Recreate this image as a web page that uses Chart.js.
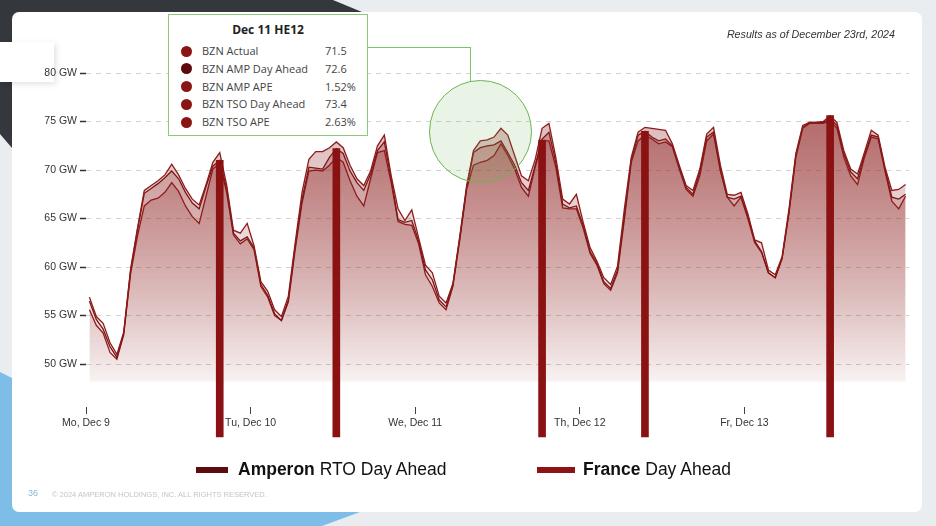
<!DOCTYPE html>
<html>
<head>
<meta charset="utf-8">
<script src="https://cdn.jsdelivr.net/npm/chart.js@4.4.1/dist/chart.umd.min.js"></script>
<style>
  html, body { margin: 0; padding: 0; }
  body { width: 936px; height: 526px; position: relative; overflow: hidden; background: #e9edf0; font-family: "Liberation Sans", Arial, sans-serif; }
  .dark { position: absolute; left: 0; top: 0; width: 400px; height: 160px; background: #34373c;
          clip-path: polygon(0 0, 333px 0, 362px 12px, 12px 148px, 0 134px); }
  .blue { position: absolute; left: 0; top: 360px; width: 400px; height: 166px; background: #7fbde9;
          clip-path: polygon(0 12px, 12px 18px, 360px 152px, 322px 166px, 0 166px); }
  .card { position: absolute; left: 12px; top: 12px; width: 910px; height: 500px; background: #fff; border-radius: 7px; }
  .tab { position: absolute; left: 0; top: 42px; width: 54px; height: 40px; background: #fff; box-shadow: 2px 2px 6px rgba(0,0,0,0.12); }
  #wrap { position: absolute; left: 0; top: 0; width: 936px; height: 526px; }
  .asof { position: absolute; right: 41px; top: 28px; font-size: 10.7px; font-style: italic; color: #333; }
  .circle { position: absolute; left: 429px; top: 80px; width: 101px; height: 101px; border-radius: 50%;
            border: 1.5px solid #6cb44e; background: rgba(108,182,88,0.15); }
  .hline { position: absolute; left: 367px; top: 47px; width: 103px; height: 1px; background: #7cc26a; }
  .vline { position: absolute; left: 470px; top: 47px; width: 1px; height: 35px; background: #7cc26a; }
  .tip { position: absolute; left: 168px; top: 14px; width: 198px; height: 120px; background: #fff; border: 1px solid #8cc97a;
         font-family: "Open Sans", sans-serif; color: #444; }
  .tip-title { position: absolute; left: 0; right: 0; top: 6px; text-align: center; font-weight: bold; font-size: 12px; color: #222; }
  .row { position: absolute; left: 0; width: 198px; height: 16px; font-size: 11px; line-height: 16px; }
  .dot { position: absolute; left: 12px; top: 2.5px; width: 11px; height: 11px; border-radius: 50%; }
  .lab { position: absolute; left: 33px; }
  .val { position: absolute; left: 156px; }
  .legend { position: absolute; top: 459px; font-size: 17.5px; color: #111; white-space: nowrap; }
  .sw { position: absolute; top: 467px; height: 6px; }
  .page { position: absolute; left: 28px; top: 488px; font-size: 9px; color: #86b8e0; }
  .copy { position: absolute; left: 52px; top: 490px; font-size: 7.5px; color: #c4c4c4; font-family: "Liberation Sans Narrow", "Liberation Sans", sans-serif; }
</style>
</head>
<body>
<div class="dark"></div>
<div class="blue"></div>
<div class="card"></div>
<div class="tab"></div>
<div id="wrap"><canvas id="demandChart"></canvas></div>
<div class="asof">Results as of December 23rd, 2024</div>
<div class="hline"></div>
<div class="vline"></div>
<div class="circle"></div>
<div class="tip" id="tip"><div class="tip-title">Dec 11 HE12</div></div>
<div class="sw" style="left:196px;width:32px;background:#5c0c0c;"></div>
<div class="legend" style="left:238px;"><b>Amperon</b> RTO Day Ahead</div>
<div class="sw" style="left:537px;width:38px;background:#8d1414;"></div>
<div class="legend" style="left:583px;"><b>France</b> Day Ahead</div>
<div class="page">36</div>
<div class="copy">© 2024 AMPERON HOLDINGS, INC. ALL RIGHTS RESERVED.</div>

<script>
// hourly load, Dec 9 00:00 .. Dec 13 23:00 (GW)
const dayLabels = ['Mo, Dec 9', 'Tu, Dec 10', 'We, Dec 11', 'Th, Dec 12', 'Fr, Dec 13'];
const dayTicks = [0, 24, 48, 72, 96];
const yTicks = [50, 55, 60, 65, 70, 75, 80];

const tsoDayAhead = [
  56.9, 54.9, 54.2, 52.2, 51.0, 53.3, 59.8, 64.0, 67.9, 68.4, 68.9, 69.5, 70.6, 69.5, 68.1, 67.0, 66.4, 68.5, 70.8, 71.8, 68.5, 63.8, 63.5, 64.5,
  62.2, 58.5, 57.5, 55.6, 54.9, 57.0, 62.5, 67.7, 71.1, 71.9, 71.9, 72.3, 72.9, 72.3, 70.5, 69.1, 68.4, 69.9, 72.5, 73.6, 69.4, 66.0, 64.8, 65.9,
  63.0, 60.2, 59.4, 57.0, 56.3, 58.3, 63.2, 68.4, 72.0, 73.0, 73.1, 73.4, 74.3, 73.6, 71.5, 69.4, 68.9, 71.1, 74.3, 74.8, 71.3, 67.0, 66.5, 67.5,
  64.6, 62.0, 60.6, 58.9, 58.2, 60.1, 66.0, 71.3, 73.9, 74.4, 74.3, 74.2, 74.1, 72.7, 70.5, 68.4, 67.9, 70.1, 73.7, 74.4, 70.5, 67.5, 67.4, 67.7,
  65.5, 62.8, 62.5, 59.7, 59.2, 61.1, 66.0, 71.7, 74.6, 74.9, 74.9, 75.0, 75.6, 74.9, 72.0, 70.1, 69.6, 71.8, 74.1, 73.6, 70.3, 67.9, 68.0, 68.5
];
const ampDayAhead = [
  56.5, 54.6, 53.6, 51.8, 50.7, 53.2, 59.6, 63.8, 67.6, 68.1, 68.6, 69.2, 69.9, 69.1, 67.7, 66.6, 66.0, 68.3, 70.4, 71.0, 68.1, 63.5, 62.7, 63.1,
  62.0, 58.2, 57.1, 55.2, 54.5, 56.6, 62.1, 67.0, 70.3, 70.2, 70.1, 71.3, 72.2, 71.7, 69.9, 68.7, 67.9, 69.6, 72.0, 72.9, 69.1, 64.9, 64.6, 64.8,
  62.7, 59.7, 58.7, 56.6, 55.9, 58.2, 63.0, 68.2, 71.8, 72.3, 72.5, 72.6, 73.0, 71.8, 70.5, 68.7, 67.9, 70.5, 73.2, 73.9, 70.8, 66.5, 66.1, 66.3,
  64.3, 61.6, 60.4, 58.5, 57.8, 59.7, 65.3, 71.0, 73.6, 74.0, 73.4, 73.0, 73.2, 72.5, 70.3, 68.2, 67.5, 69.8, 73.4, 73.9, 70.1, 67.2, 67.0, 67.3,
  65.3, 62.7, 61.6, 59.4, 58.9, 60.9, 65.6, 71.5, 74.4, 74.9, 74.9, 74.9, 75.3, 74.6, 71.7, 69.8, 69.1, 71.5, 73.6, 73.4, 70.1, 67.2, 67.0, 67.5
];
const bznActual = [
  55.6, 54.0, 53.2, 51.2, 50.5, 53.0, 59.3, 63.2, 66.3, 66.9, 67.1, 67.7, 68.7, 67.8, 66.3, 65.2, 64.5, 67.3, 70.1, 70.7, 67.7, 63.3, 62.4, 62.9,
  61.8, 58.0, 56.9, 55.0, 54.5, 56.4, 61.8, 66.6, 69.9, 70.0, 69.9, 70.5, 71.3, 70.8, 68.9, 67.3, 66.3, 69.1, 71.8, 72.0, 68.7, 64.7, 64.4, 64.3,
  62.4, 59.2, 58.0, 56.3, 55.6, 58.0, 62.8, 68.0, 70.5, 70.8, 71.0, 71.5, 72.7, 71.5, 70.1, 68.2, 67.3, 70.3, 73.0, 73.0, 70.3, 66.1, 66.0, 66.0,
  64.0, 61.4, 60.2, 58.3, 57.6, 59.4, 64.9, 70.8, 73.0, 73.6, 73.2, 72.7, 72.9, 72.4, 70.1, 68.0, 67.3, 69.4, 73.0, 73.7, 69.9, 67.2, 66.3, 67.2,
  65.0, 62.5, 61.5, 59.4, 58.9, 60.9, 65.6, 71.3, 74.3, 74.8, 74.8, 74.8, 75.1, 74.3, 71.3, 69.4, 68.5, 71.3, 73.4, 73.2, 69.9, 66.8, 66.0, 67.3
];

// daily peak hour markers
const peakHours = [19, 36, 66, 81, 108];
const franceDayAhead = [71.0, 72.2, 73.1, 74.0, 75.6];

// tooltip content
const tipLabels = ['BZN Actual', 'BZN AMP Day Ahead', 'BZN AMP APE', 'BZN TSO Day Ahead', 'BZN TSO APE'];
const tipValues = ['71.5', '72.6', '1.52%', '73.4', '2.63%'];
const tipColors = ['#8b1515', '#5e0a0a', '#8b1515', '#8b1515', '#8b1515'];

const tip = document.getElementById('tip');
tipLabels.forEach(function (lab, i) {
  const row = document.createElement('div');
  row.className = 'row';
  row.style.top = (28 + i * 17.8) + 'px';
  row.innerHTML = '<span class="dot" style="background:' + tipColors[i] + '"></span>' +
                  '<span class="lab">' + lab + '</span><span class="val">' + tipValues[i] + '</span>';
  tip.appendChild(row);
});

function toPoints(arr) {
  return arr.map(function (v, i) { return {x: i + 0.5, y: v}; });
}

function areaFill(context) {
  const chart = context.chart;
  if (!chart.chartArea) return 'rgba(140,28,28,0.15)';
  const top = chart.scales.y.getPixelForValue(76);
  const bottom = chart.scales.y.getPixelForValue(48.2);
  const g = chart.ctx.createLinearGradient(0, top, 0, bottom);
  g.addColorStop(0, 'rgba(140,28,28,0.30)');
  g.addColorStop(1, 'rgba(140,28,28,0.02)');
  return g;
}

function lineSet(label, data, color) {
  return {
    type: 'line',
    label: label,
    data: toPoints(data),
    borderColor: color,
    borderWidth: 1.3,
    pointRadius: 0,
    tension: 0,
    fill: {value: 48.2},
    backgroundColor: areaFill,
    order: 2
  };
}

const axisFont = {family: 'Liberation Sans', size: 10.5};

new Chart(document.getElementById('demandChart'), {
  type: 'line',
  data: {
    datasets: [
      lineSet('BZN TSO Day Ahead', tsoDayAhead, '#8e1b1b'),
      lineSet('BZN AMP Day Ahead', ampDayAhead, '#7a1414'),
      lineSet('BZN Actual', bznActual, '#8e1b1b'),
      {
        type: 'bar',
        label: 'France Day Ahead',
        data: peakHours.map(function (h, k) { return {x: h + 0.5, y: [42.5, franceDayAhead[k]]}; }),
        backgroundColor: '#8b1212',
        barThickness: 7,
        clip: false,
        order: 0
      }
    ]
  },
  options: {
    responsive: true,
    maintainAspectRatio: false,
    animation: false,
    events: [],
    layout: {padding: {left: 36, right: 27, top: 73, bottom: 89}},
    plugins: {
      legend: {display: false},
      tooltip: {enabled: false}
    },
    scales: {
      x: {
        type: 'linear',
        min: 0,
        max: 120,
        offset: false,
        afterBuildTicks: function (s) { s.ticks = dayTicks.map(function (v) { return {value: v}; }); },
        afterFit: function (s) { s.height = 30; },
        grid: {offset: false, drawOnChartArea: false, drawTicks: true, tickLength: 7, color: '#444', tickWidth: 1},
        border: {display: false},
        ticks: {
          callback: function (v, i) { return dayLabels[i]; },
          color: '#333', font: axisFont, padding: 3, maxRotation: 0, autoSkip: false
        }
      },
      y: {
        min: 45.58,
        max: 80,
        afterBuildTicks: function (s) { s.ticks = yTicks.map(function (v) { return {value: v}; }); },
        afterFit: function (s) { s.width = 50; },
        grid: {color: '#d2d2d2', lineWidth: 1, tickColor: '#333', tickLength: 6, tickWidth: 1.5, tickBorderDash: []},
        border: {display: false, dash: [5, 5]},
        ticks: {
          callback: function (v) { return v + ' GW'; },
          color: '#333', font: axisFont, padding: 3
        }
      }
    }
  }
});
</script>
</body>
</html>
